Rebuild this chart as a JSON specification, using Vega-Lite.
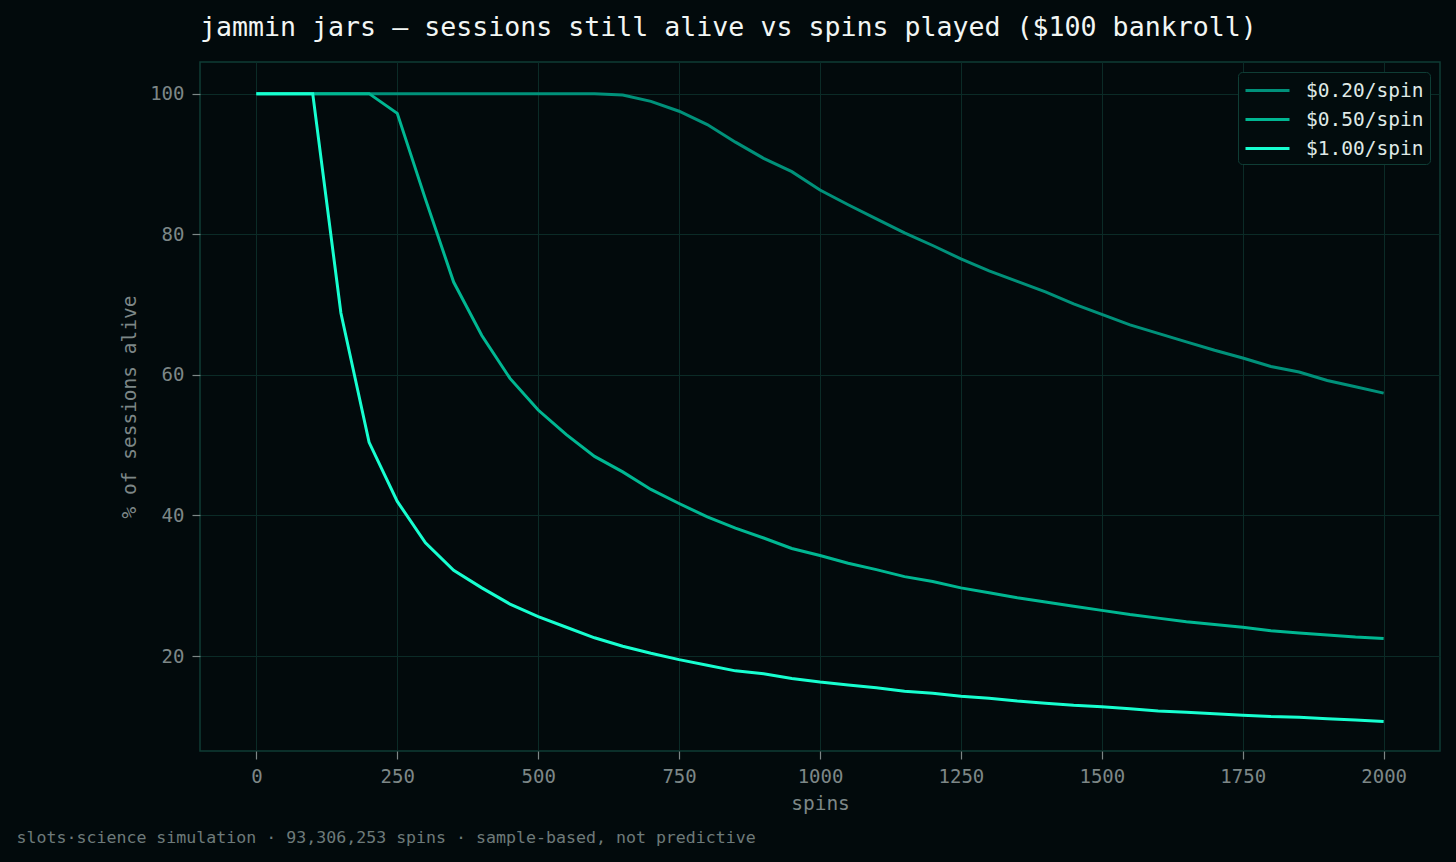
{
  "$schema": "https://vega.github.io/schema/vega-lite/v6.json",
  "width": 1240,
  "height": 689,
  "autosize": {"type": "none"},
  "padding": {"left": 200, "top": 62, "right": 16, "bottom": 111},
  "background": "#020a0c",
  "title": {
    "text": "jammin jars — sessions still alive vs spins played ($100 bankroll)",
    "anchor": "start",
    "frame": "group",
    "font": "DejaVu Sans Mono",
    "fontSize": 26.6,
    "fontWeight": "normal",
    "color": "#f2f6f4",
    "offset": 20
  },
  "config": {
    "font": "DejaVu Sans Mono",
    "view": {"stroke": "#0f3d35", "strokeWidth": 1.5, "fill": "#020a0c"},
    "axis": {
      "domain": false,
      "grid": true,
      "gridColor": "#0b2b27",
      "gridWidth": 1,
      "tickColor": "#7d8787",
      "tickSize": 8,
      "tickWidth": 1.2,
      "labelColor": "#7d8787",
      "labelFont": "DejaVu Sans Mono",
      "labelFontSize": 19,
      "labelPadding": 8,
      "titleColor": "#7d8787",
      "titleFont": "DejaVu Sans Mono",
      "titleFontSize": 19.5,
      "titleFontWeight": "normal"
    },
    "legend": {
      "labelFont": "DejaVu Sans Mono",
      "labelFontSize": 19.5,
      "labelColor": "#dfe9e6"
    }
  },
  "data": {
    "values": [
      {"spins": 0, "bet": "$0.20/spin", "alive": 100},
      {"spins": 50, "bet": "$0.20/spin", "alive": 100},
      {"spins": 100, "bet": "$0.20/spin", "alive": 100},
      {"spins": 150, "bet": "$0.20/spin", "alive": 100},
      {"spins": 200, "bet": "$0.20/spin", "alive": 100},
      {"spins": 250, "bet": "$0.20/spin", "alive": 100},
      {"spins": 300, "bet": "$0.20/spin", "alive": 100},
      {"spins": 350, "bet": "$0.20/spin", "alive": 100},
      {"spins": 400, "bet": "$0.20/spin", "alive": 100},
      {"spins": 450, "bet": "$0.20/spin", "alive": 100},
      {"spins": 500, "bet": "$0.20/spin", "alive": 100},
      {"spins": 550, "bet": "$0.20/spin", "alive": 100},
      {"spins": 600, "bet": "$0.20/spin", "alive": 100},
      {"spins": 650, "bet": "$0.20/spin", "alive": 99.8},
      {"spins": 700, "bet": "$0.20/spin", "alive": 98.9},
      {"spins": 750, "bet": "$0.20/spin", "alive": 97.5},
      {"spins": 800, "bet": "$0.20/spin", "alive": 95.6},
      {"spins": 850, "bet": "$0.20/spin", "alive": 93.1},
      {"spins": 900, "bet": "$0.20/spin", "alive": 90.8},
      {"spins": 950, "bet": "$0.20/spin", "alive": 88.9},
      {"spins": 1000, "bet": "$0.20/spin", "alive": 86.3},
      {"spins": 1050, "bet": "$0.20/spin", "alive": 84.2},
      {"spins": 1100, "bet": "$0.20/spin", "alive": 82.2},
      {"spins": 1150, "bet": "$0.20/spin", "alive": 80.2},
      {"spins": 1200, "bet": "$0.20/spin", "alive": 78.4},
      {"spins": 1250, "bet": "$0.20/spin", "alive": 76.5},
      {"spins": 1300, "bet": "$0.20/spin", "alive": 74.8},
      {"spins": 1350, "bet": "$0.20/spin", "alive": 73.3},
      {"spins": 1400, "bet": "$0.20/spin", "alive": 71.8},
      {"spins": 1450, "bet": "$0.20/spin", "alive": 70.1},
      {"spins": 1500, "bet": "$0.20/spin", "alive": 68.6},
      {"spins": 1550, "bet": "$0.20/spin", "alive": 67.1},
      {"spins": 1600, "bet": "$0.20/spin", "alive": 65.9},
      {"spins": 1650, "bet": "$0.20/spin", "alive": 64.7},
      {"spins": 1700, "bet": "$0.20/spin", "alive": 63.5},
      {"spins": 1750, "bet": "$0.20/spin", "alive": 62.4},
      {"spins": 1800, "bet": "$0.20/spin", "alive": 61.2},
      {"spins": 1850, "bet": "$0.20/spin", "alive": 60.4},
      {"spins": 1900, "bet": "$0.20/spin", "alive": 59.2},
      {"spins": 1950, "bet": "$0.20/spin", "alive": 58.3},
      {"spins": 2000, "bet": "$0.20/spin", "alive": 57.4},
      {"spins": 0, "bet": "$0.50/spin", "alive": 100},
      {"spins": 50, "bet": "$0.50/spin", "alive": 100},
      {"spins": 100, "bet": "$0.50/spin", "alive": 100},
      {"spins": 150, "bet": "$0.50/spin", "alive": 100},
      {"spins": 200, "bet": "$0.50/spin", "alive": 100},
      {"spins": 250, "bet": "$0.50/spin", "alive": 97.2},
      {"spins": 300, "bet": "$0.50/spin", "alive": 85.0},
      {"spins": 350, "bet": "$0.50/spin", "alive": 73.2},
      {"spins": 400, "bet": "$0.50/spin", "alive": 65.6},
      {"spins": 450, "bet": "$0.50/spin", "alive": 59.5},
      {"spins": 500, "bet": "$0.50/spin", "alive": 55.0},
      {"spins": 550, "bet": "$0.50/spin", "alive": 51.5},
      {"spins": 600, "bet": "$0.50/spin", "alive": 48.4},
      {"spins": 650, "bet": "$0.50/spin", "alive": 46.2},
      {"spins": 700, "bet": "$0.50/spin", "alive": 43.7},
      {"spins": 750, "bet": "$0.50/spin", "alive": 41.7},
      {"spins": 800, "bet": "$0.50/spin", "alive": 39.8},
      {"spins": 850, "bet": "$0.50/spin", "alive": 38.2},
      {"spins": 900, "bet": "$0.50/spin", "alive": 36.8},
      {"spins": 950, "bet": "$0.50/spin", "alive": 35.3},
      {"spins": 1000, "bet": "$0.50/spin", "alive": 34.3},
      {"spins": 1050, "bet": "$0.50/spin", "alive": 33.2},
      {"spins": 1100, "bet": "$0.50/spin", "alive": 32.3},
      {"spins": 1150, "bet": "$0.50/spin", "alive": 31.3},
      {"spins": 1200, "bet": "$0.50/spin", "alive": 30.6},
      {"spins": 1250, "bet": "$0.50/spin", "alive": 29.7},
      {"spins": 1300, "bet": "$0.50/spin", "alive": 29.0},
      {"spins": 1350, "bet": "$0.50/spin", "alive": 28.3},
      {"spins": 1400, "bet": "$0.50/spin", "alive": 27.7},
      {"spins": 1450, "bet": "$0.50/spin", "alive": 27.1},
      {"spins": 1500, "bet": "$0.50/spin", "alive": 26.5},
      {"spins": 1550, "bet": "$0.50/spin", "alive": 25.9},
      {"spins": 1600, "bet": "$0.50/spin", "alive": 25.4},
      {"spins": 1650, "bet": "$0.50/spin", "alive": 24.9},
      {"spins": 1700, "bet": "$0.50/spin", "alive": 24.5},
      {"spins": 1750, "bet": "$0.50/spin", "alive": 24.1},
      {"spins": 1800, "bet": "$0.50/spin", "alive": 23.6},
      {"spins": 1850, "bet": "$0.50/spin", "alive": 23.3},
      {"spins": 1900, "bet": "$0.50/spin", "alive": 23.0},
      {"spins": 1950, "bet": "$0.50/spin", "alive": 22.7},
      {"spins": 2000, "bet": "$0.50/spin", "alive": 22.5},
      {"spins": 0, "bet": "$1.00/spin", "alive": 100},
      {"spins": 50, "bet": "$1.00/spin", "alive": 100},
      {"spins": 100, "bet": "$1.00/spin", "alive": 100},
      {"spins": 150, "bet": "$1.00/spin", "alive": 68.8},
      {"spins": 200, "bet": "$1.00/spin", "alive": 50.4},
      {"spins": 250, "bet": "$1.00/spin", "alive": 42.0},
      {"spins": 300, "bet": "$1.00/spin", "alive": 36.1},
      {"spins": 350, "bet": "$1.00/spin", "alive": 32.2},
      {"spins": 400, "bet": "$1.00/spin", "alive": 29.7},
      {"spins": 450, "bet": "$1.00/spin", "alive": 27.4},
      {"spins": 500, "bet": "$1.00/spin", "alive": 25.6},
      {"spins": 550, "bet": "$1.00/spin", "alive": 24.1},
      {"spins": 600, "bet": "$1.00/spin", "alive": 22.6},
      {"spins": 650, "bet": "$1.00/spin", "alive": 21.4},
      {"spins": 700, "bet": "$1.00/spin", "alive": 20.4},
      {"spins": 750, "bet": "$1.00/spin", "alive": 19.5},
      {"spins": 800, "bet": "$1.00/spin", "alive": 18.7},
      {"spins": 850, "bet": "$1.00/spin", "alive": 17.9},
      {"spins": 900, "bet": "$1.00/spin", "alive": 17.5},
      {"spins": 950, "bet": "$1.00/spin", "alive": 16.8},
      {"spins": 1000, "bet": "$1.00/spin", "alive": 16.3},
      {"spins": 1050, "bet": "$1.00/spin", "alive": 15.9},
      {"spins": 1100, "bet": "$1.00/spin", "alive": 15.5},
      {"spins": 1150, "bet": "$1.00/spin", "alive": 15.0},
      {"spins": 1200, "bet": "$1.00/spin", "alive": 14.7},
      {"spins": 1250, "bet": "$1.00/spin", "alive": 14.3},
      {"spins": 1300, "bet": "$1.00/spin", "alive": 14.0},
      {"spins": 1350, "bet": "$1.00/spin", "alive": 13.6},
      {"spins": 1400, "bet": "$1.00/spin", "alive": 13.3},
      {"spins": 1450, "bet": "$1.00/spin", "alive": 13.0},
      {"spins": 1500, "bet": "$1.00/spin", "alive": 12.8},
      {"spins": 1550, "bet": "$1.00/spin", "alive": 12.5},
      {"spins": 1600, "bet": "$1.00/spin", "alive": 12.2},
      {"spins": 1650, "bet": "$1.00/spin", "alive": 12.0},
      {"spins": 1700, "bet": "$1.00/spin", "alive": 11.8},
      {"spins": 1750, "bet": "$1.00/spin", "alive": 11.6},
      {"spins": 1800, "bet": "$1.00/spin", "alive": 11.4},
      {"spins": 1850, "bet": "$1.00/spin", "alive": 11.3},
      {"spins": 1900, "bet": "$1.00/spin", "alive": 11.1},
      {"spins": 1950, "bet": "$1.00/spin", "alive": 10.9},
      {"spins": 2000, "bet": "$1.00/spin", "alive": 10.7}
    ]
  },
  "layer": [
    {
      "mark": {"type": "line", "strokeWidth": 3, "strokeJoin": "miter", "clip": true},
      "encoding": {
        "x": {
          "field": "spins",
          "type": "quantitative",
          "scale": {"domain": [-100, 2100], "nice": false, "zero": false},
          "axis": {"title": "spins", "values": [0, 250, 500, 750, 1000, 1250, 1500, 1750, 2000], "format": "d", "titlePadding": 8}
        },
        "y": {
          "field": "alive",
          "type": "quantitative",
          "scale": {"domain": [6.5, 104.5], "nice": false, "zero": false},
          "axis": {"title": "% of sessions alive", "values": [20, 40, 60, 80, 100], "format": "d", "titlePadding": 10}
        },
        "color": {
          "field": "bet",
          "type": "nominal",
          "scale": {"domain": ["$0.20/spin", "$0.50/spin", "$1.00/spin"], "range": ["#00917a", "#00b792", "#17ffd0"]},
          "legend": {
            "title": null,
            "orient": "none",
            "legendX": 1038,
            "legendY": 10,
            "symbolType": "M-1,0H3",
            "symbolSize": 484,
            "symbolStrokeWidth": 3,
            "symbolFillColor": "transparent",
            "labelOffset": 37,
            "rowPadding": 7,
            "padding": 6,
            "strokeColor": "#0f3d35",
            "fillColor": "#020c0d",
            "cornerRadius": 4
          }
        }
      }
    },
    {
      "mark": {"type": "line", "opacity": 0},
      "encoding": {
        "x": {
          "field": "spins",
          "type": "quantitative",
          "axis": {
            "title": "slots·science simulation · 93,306,253 spins · sample-based, not predictive",
            "orient": "bottom",
            "labels": false,
            "ticks": false,
            "grid": false,
            "domain": false,
            "titleAnchor": "start",
            "titleAlign": "left",
            "titleBaseline": "alphabetic",
            "titleX": -184,
            "titleY": 91,
            "titleFontSize": 16.6,
            "titleColor": "#6e7a7a"
          }
        },
        "y": {
          "field": "alive",
          "type": "quantitative",
          "axis": {"title": "% of sessions alive", "values": [20, 40, 60, 80, 100], "format": "d", "titlePadding": 10}
        },
        "detail": {"field": "bet"}
      }
    }
  ],
  "resolve": {"axis": {"x": "independent"}}
}
